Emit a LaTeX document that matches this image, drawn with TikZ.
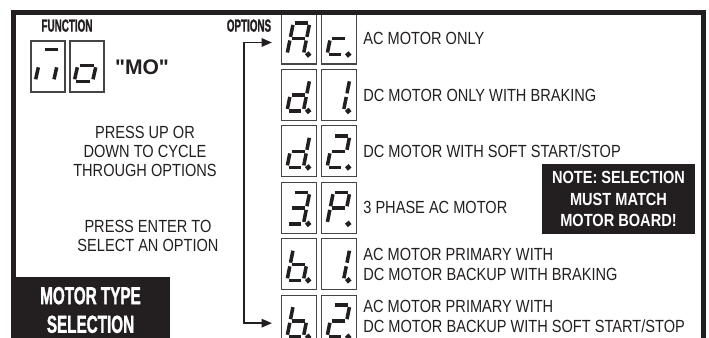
\documentclass[tikz,border=0pt]{standalone}
\usepackage{fontspec}
\setmainfont{Liberation Sans}[FakeStretch=0.83]
\newfontfamily\narrowfont{Liberation Sans}[FakeStretch=0.62, FakeBold=1.2]
\newfontfamily\headfont{Liberation Sans}[FakeStretch=0.56, FakeBold=1]
\newfontfamily\plainfont{Liberation Sans}
\usepackage{tikz}
\usetikzlibrary{arrows.meta, positioning, calc}
\definecolor{ink}{RGB}{35,31,32}
\definecolor{boxgray}{RGB}{70,68,69}
\tikzset{
  outerframe/.style={line width=0.125cm, draw=ink},
  digitbox/.style={rectangle, draw=boxgray, line width=0.75pt,
    minimum width=0.875cm, minimum height=1.275cm, inner sep=0pt},
  fnbox/.style={digitbox, minimum width=0.85cm},
  optlabel/.style={anchor=west, align=left, text=ink, inner sep=0pt,
    font=\fontsize{12.5}{14}\selectfont},
  bodytext/.style={align=center, text=ink, font=\fontsize{12.5}{13.5}\selectfont},
  header/.style={text=ink, font=\headfont\bfseries\fontsize{12.5}{14}\selectfont},
  blackbox/.style={rectangle, fill=ink, text=white, align=center, inner sep=0pt},
  segline/.style={draw=ink, line width=2.5pt},
  cyclearrow/.style={{Triangle[length=0.26cm,width=0.21cm]}-{Triangle[length=0.26cm,width=0.21cm]},
    line width=1.4pt, draw=ink, shorten <=0.225cm, shorten >=0.225cm},
  seg a/.style={insert path={(0.05,0.79) -- (0.36,0.79)}},
  seg b/.style={insert path={(0.41,0.74) -- (0.41,0.44)}},
  seg c/.style={insert path={(0.41,0.35) -- (0.41,0.05)}},
  seg d/.style={insert path={(0.05,0) -- (0.36,0)}},
  seg e/.style={insert path={(0,0.05) -- (0,0.35)}},
  seg f/.style={insert path={(0,0.44) -- (0,0.74)}},
  seg g/.style={insert path={(0.05,0.395) -- (0.36,0.395)}},
  seg p/.style={insert path={(0.53,0) circle[radius=0.02]}}
}
% one slanted seven segment digit inside a digit box
\newcommand{\segdigit}[3][]{%
  \begin{scope}[shift={(#2.center)}, shift={(-0.3,-0.4)}, #1, xslant=0.2]
    \foreach \s in {#3}{\edef\segcmd{\noexpand\draw[segline, seg \s];}\segcmd}
  \end{scope}}

\begin{document}
\begin{tikzpicture}
  \useasboundingbox (0,0) rectangle (17.725,-8.425);

  % Function
  \node[header] (fn) at (1.675,-0.64) {FUNCTION};
  \node[fnbox] (fn1) at (1.2,-1.6625) {};
  \node[fnbox] (fn2) at (2.175,-1.6625) {};
  \segdigit[shift={(-0.02,0.03)}, xscale=1.12]{fn1}{a,e,c}
  \segdigit[shift={(-0.02,0.03)}, xscale=1.12]{fn2}{g,c,d,e}
  \node[text=ink, font=\plainfont\bfseries\fontsize{15}{18}\selectfont] (mo) at (3.55,-1.6875) {"MO"};

  \node[bodytext] (press) at (3.625,-3.775) {PRESS UP OR\\DOWN TO CYCLE\\THROUGH OPTIONS};
  \node[bodytext] (enter) at (3.7,-5.9) {PRESS ENTER TO\\SELECT AN OPTION};

  % Options
  \node[header] (opts) at (6.225,-0.64) {OPTIONS};
  \node[digitbox] (o1a) at (7.475,-0.9625) {};
  \node[digitbox, right=0.1cm of o1a] (o1b) {};
  \node[optlabel, right=0.15cm of o1b] (t1) {AC MOTOR ONLY};
  \segdigit{o1a}{a,b,c,e,f,g,p}
  \segdigit{o1b}{g,e,d,p}

  \node[digitbox, below=0.11cm of o1a] (o2a) {};
  \node[digitbox, right=0.1cm of o2a] (o2b) {};
  \node[optlabel, right=0.15cm of o2b] (t2) {DC MOTOR ONLY WITH BRAKING};
  \segdigit{o2a}{b,c,d,e,g,p}
  \segdigit{o2b}{b,c,p}

  \node[digitbox, below=0.11cm of o2a] (o3a) {};
  \node[digitbox, right=0.1cm of o3a] (o3b) {};
  \node[optlabel, right=0.15cm of o3b] (t3) {DC MOTOR WITH SOFT START/STOP};
  \segdigit{o3a}{b,c,d,e,g,p}
  \segdigit{o3b}{a,b,g,e,d,p}

  \node[digitbox, below=0.11cm of o3a] (o4a) {};
  \node[digitbox, right=0.1cm of o4a] (o4b) {};
  \node[optlabel, right=0.15cm of o4b] (t4) {3 PHASE AC MOTOR};
  \segdigit{o4a}{a,b,g,c,d,p}
  \segdigit{o4b}{a,b,f,g,e,p}

  \node[digitbox, below=0.11cm of o4a] (o5a) {};
  \node[digitbox, right=0.1cm of o5a] (o5b) {};
  \node[optlabel, right=0.15cm of o5b] (t5) {AC MOTOR PRIMARY WITH\\DC MOTOR BACKUP WITH BRAKING};
  \segdigit{o5a}{f,e,d,c,g,p}
  \segdigit{o5b}{b,c,p}

  \node[digitbox, below=0.11cm of o5a] (o6a) {};
  \node[digitbox, right=0.1cm of o6a] (o6b) {};
  \node[optlabel, right=0.15cm of o6b, yshift=0.1cm] (t6) {AC MOTOR PRIMARY WITH\\DC MOTOR BACKUP WITH SOFT START/STOP};
  \segdigit{o6a}{f,e,d,c,g,p}
  \segdigit{o6b}{a,b,g,e,d,p}

  \draw[cyclearrow] ([yshift=-0.1cm]o1a.west) -- ++(-0.925,0) |- ([yshift=-0.06cm]o6a.west);

  % Note and title
  \node[blackbox, minimum width=3.825cm, minimum height=1.75cm,
    font=\bfseries\fontsize{12.5}{15}\selectfont] (note) at (15.4625,-4.975)
    {NOTE: SELECTION\\MUST MATCH\\MOTOR BOARD!};
  \draw[outerframe] (0.3375,-7.2) -- (0.3375,-0.3125) -- (17.5875,-0.3125) -- (17.5875,-8.6);
  \node[blackbox, minimum width=3.975cm, minimum height=1.675cm,
    font=\narrowfont\bfseries\fontsize{17.5}{20.4}\selectfont] (title) at (2.2625,-7.75)
    {MOTOR TYPE\\SELECTION};
\end{tikzpicture}
\end{document}
